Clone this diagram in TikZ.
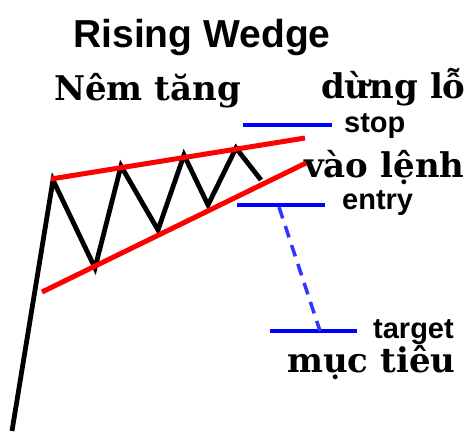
\documentclass[tikz,border=0pt]{standalone}
\usepackage{fontspec}
\setmainfont{DejaVu Serif}
\setsansfont{Liberation Sans}
\definecolor{wRed}{HTML}{FF0000}
\definecolor{wBlue}{HTML}{0000FF}
\definecolor{wDash}{HTML}{3333FF}
\usetikzlibrary{positioning}

\begin{document}
\begin{tikzpicture}[x=1pt,y=-1pt,
  lvl/.style={wBlue, line width=4pt},
  tag/.style={font=\sffamily\bfseries\fontsize{29}{30}\selectfont, anchor=base west, inner sep=0pt},
  vn/.style={font=\bfseries\fontsize{34}{36}\selectfont, anchor=base west, inner sep=0pt}]
\useasboundingbox (0,0) rectangle (476,431);
% titles
\node[font=\sffamily\bfseries\fontsize{39}{41}\selectfont, anchor=base, inner sep=0pt] (title) at (202,47) {Rising Wedge};
\node[vn] (nem) at (54,100) {Nêm tăng};
% price path
\coordinate (p0) at (12,431); \coordinate (p1) at (53,180);
\coordinate (p2) at (95,268); \coordinate (p3) at (121,166);
\coordinate (p4) at (158,230); \coordinate (p5) at (184,155);
\coordinate (p6) at (208,205); \coordinate (p7) at (236,148);
\coordinate (p8) at (261,180);
\draw[line width=4.8pt] (p0) -- (p1) -- (p2) -- (p3) -- (p4) -- (p5) -- (p6) -- (p7) -- (p8);
% wedge lines
\coordinate (ua) at (51,179); \coordinate (ub) at (305,138);
\coordinate (la) at (42,292); \coordinate (lb) at (306,163);
\draw[wRed, line width=5pt] (ua) -- (ub);
\draw[wRed, line width=5pt] (la) -- (lb);
% stop
\coordinate (sa) at (243,125); \coordinate (sb) at (332,125);
\draw[lvl] (sa) -- (sb);
\node[tag] (stop) at (344,132) {stop};
\node[vn] (dung) at (321,98) {dừng lỗ};
% entry
\coordinate (ea) at (237,205); \coordinate (eb) at (325,205);
\draw[lvl] (ea) -- (eb);
\node[tag] (entry) at (342,209) {entry};
\node[vn] (vao) at (304,177) {vào lệnh};
% target
\coordinate (ta) at (270,331); \coordinate (tb) at (357,331);
\draw[lvl] (ta) -- (tb);
\node[tag] (target) at (373,338) {target};
\node[vn] (muc) at (287,372) {mục tiêu};
% projection
\coordinate (da) at (279,207); \coordinate (db) at (320,331);
\draw[wDash, line width=3.5pt, dash pattern=on 12pt off 8pt] (da) -- (db);
\end{tikzpicture}
\end{document}
